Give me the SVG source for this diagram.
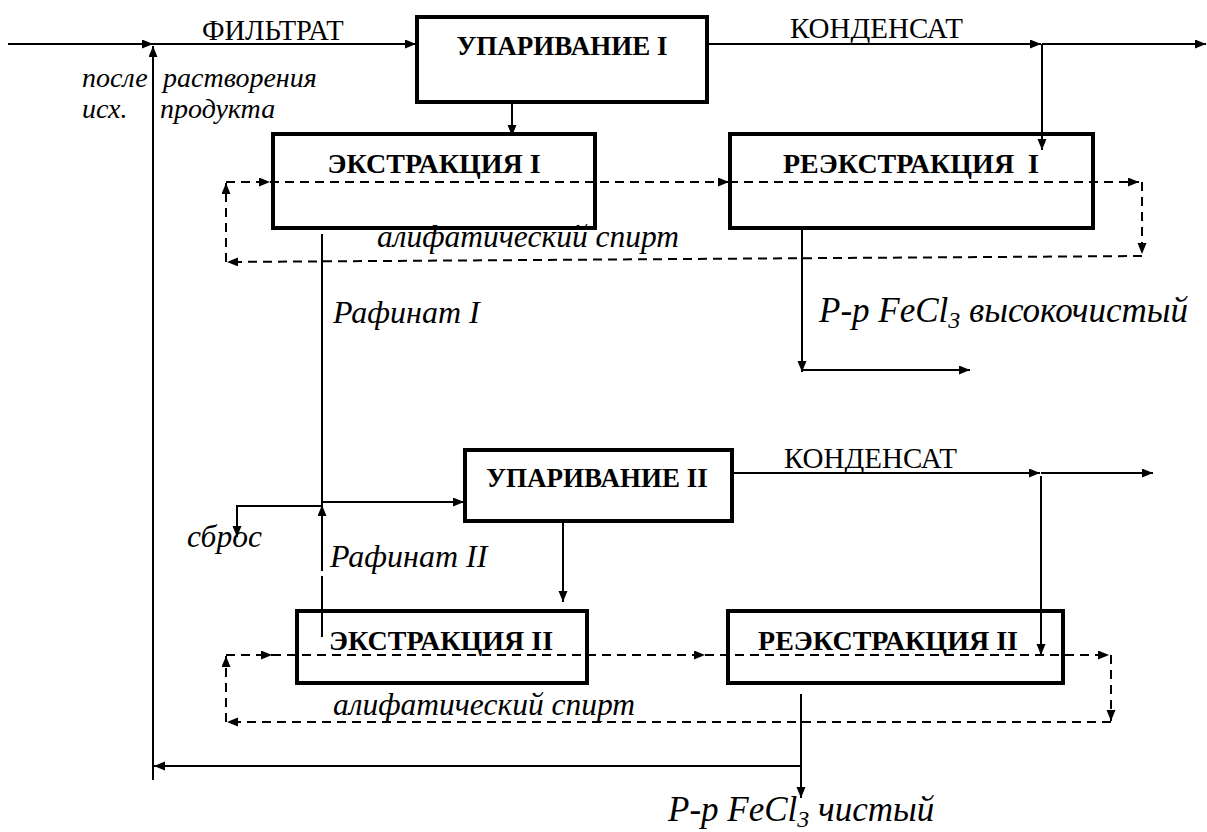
<svg xmlns="http://www.w3.org/2000/svg" width="1207" height="832" viewBox="0 0 1207 832">
<rect width="1207" height="832" fill="#fff"/>
<g id="evap1"><rect x="417" y="17" width="290" height="85" fill="#fff" stroke="#000" stroke-width="4"/><text x="562" y="55" text-anchor="middle" font-family="Liberation Serif" font-weight="bold" font-size="27">УПАРИВАНИЕ I</text></g>
<g id="extr1"><rect x="273" y="134" width="322" height="94" fill="#fff" stroke="#000" stroke-width="4"/><text x="434" y="173" text-anchor="middle" font-family="Liberation Serif" font-weight="bold" font-size="28">ЭКСТРАКЦИЯ I</text></g>
<g id="reextr1"><rect x="730" y="134" width="363" height="94" fill="#fff" stroke="#000" stroke-width="4"/><text x="911" y="173" text-anchor="middle" font-family="Liberation Serif" font-weight="bold" font-size="28">РЕЭКСТРАКЦИЯ&#160; I</text></g>
<g id="evap2"><rect x="465" y="450" width="267" height="71" fill="#fff" stroke="#000" stroke-width="4"/><text x="597" y="487" text-anchor="middle" font-family="Liberation Serif" font-weight="bold" font-size="27">УПАРИВАНИЕ II</text></g>
<g id="extr2"><rect x="297" y="611" width="290" height="72" fill="#fff" stroke="#000" stroke-width="4"/><text x="441" y="650" text-anchor="middle" font-family="Liberation Serif" font-weight="bold" font-size="28">ЭКСТРАКЦИЯ II</text></g>
<g id="reextr2"><rect x="728" y="611" width="335" height="72" fill="#fff" stroke="#000" stroke-width="4"/><text x="888" y="650" text-anchor="middle" font-family="Liberation Serif" font-weight="bold" font-size="28">РЕЭКСТРАКЦИЯ II</text></g>
<g id="connectors" fill="none" stroke="#000" stroke-width="2">
<path d="M8,44 H153" marker-end="url(#a)"/>
<path d="M153,780 V46" marker-end="url(#a)"/>
<path d="M153,44 H416" marker-end="url(#a)"/>
<path d="M512,102 V136" marker-end="url(#a)"/>
<path d="M707,44 H1041" marker-end="url(#a)"/>
<path d="M1042,44 H1206" marker-end="url(#a)"/>
<path d="M1042,44 V150" marker-end="url(#a)"/>
<path d="M322,234 V506"/>
<path d="M802,228 V372" marker-end="url(#a)"/>
<path d="M802,370 H970" marker-end="url(#a)"/>
<path d="M322,502 H464" marker-end="url(#a)"/>
<path d="M322,506 H237 V537" marker-end="url(#a)"/>
<path d="M322,637 V576"/>
<path d="M322,571 V505" marker-end="url(#a)"/>
<path d="M563,521 V602" marker-end="url(#a)"/>
<path d="M732,473 H1040" marker-end="url(#a)"/>
<path d="M1041,473 H1153" marker-end="url(#a)"/>
<path d="M1041,476 V655" marker-end="url(#a)"/>
<path d="M801,694 V798" marker-end="url(#a)"/>
<path d="M801,766 H154" marker-end="url(#a)"/>
<g stroke-dasharray="9,6">
<path d="M226,182 H270" marker-end="url(#a)"/>
<path d="M270,182 H729" marker-end="url(#a)"/>
<path d="M729,182 H1139" marker-end="url(#a)"/>
<path d="M1142,182 V254" marker-end="url(#a)"/>
<path d="M1142,256 L227,262" marker-end="url(#a)"/>
<path d="M226,262 V183" marker-end="url(#a)"/>
<path d="M226,655 H272" marker-end="url(#a)"/>
<path d="M272,655 H705" marker-end="url(#a)"/>
<path d="M705,655 H1109" marker-end="url(#a)"/>
<path d="M1111,655 V721" marker-end="url(#a)"/>
<path d="M1111,722 H227" marker-end="url(#a)"/>
<path d="M226,722 V656" marker-end="url(#a)"/>
</g>
</g>
<text x="202" y="40" font-family="Liberation Serif" font-size="28.5">ФИЛЬТРАТ</text>
<text x="790" y="38" font-family="Liberation Serif" font-size="29">КОНДЕНСАТ</text>
<text x="784" y="468" font-family="Liberation Serif" font-size="29">КОНДЕНСАТ</text>
<text x="82" y="87" font-family="Liberation Serif" font-style="italic" font-size="28">после</text>
<text x="163" y="87" font-family="Liberation Serif" font-style="italic" font-size="28">растворения</text>
<text x="82" y="118" font-family="Liberation Serif" font-style="italic" font-size="28">исх.</text>
<text x="160" y="118" font-family="Liberation Serif" font-style="italic" font-size="28">продукта</text>
<text x="377" y="247" font-family="Liberation Serif" font-style="italic" font-size="31.5">алифатический спирт</text>
<text x="333" y="323" font-family="Liberation Serif" font-style="italic" font-size="32">Рафинат I</text>
<text x="819" y="322" font-family="Liberation Serif" font-style="italic" font-size="35">Р-р FeCl<tspan dy="6" font-size="24">3</tspan><tspan dy="-6"> высокочистый</tspan></text>
<text x="187" y="547" font-family="Liberation Serif" font-style="italic" font-size="31.5">сброс</text>
<text x="330" y="567" font-family="Liberation Serif" font-style="italic" font-size="32">Рафинат II</text>
<text x="333" y="715" font-family="Liberation Serif" font-style="italic" font-size="31.5">алифатический спирт</text>
<text x="668" y="821" font-family="Liberation Serif" font-style="italic" font-size="35">Р-р FeCl<tspan dy="6" font-size="24">3</tspan><tspan dy="-6"> чистый</tspan></text>
<defs>
<marker id="a" markerUnits="userSpaceOnUse" markerWidth="12" markerHeight="10" refX="11" refY="4.5" orient="auto"><path d="M0,0 L11,4.5 L0,9 z" fill="#000" stroke="none"/></marker>
</defs>
</svg>
